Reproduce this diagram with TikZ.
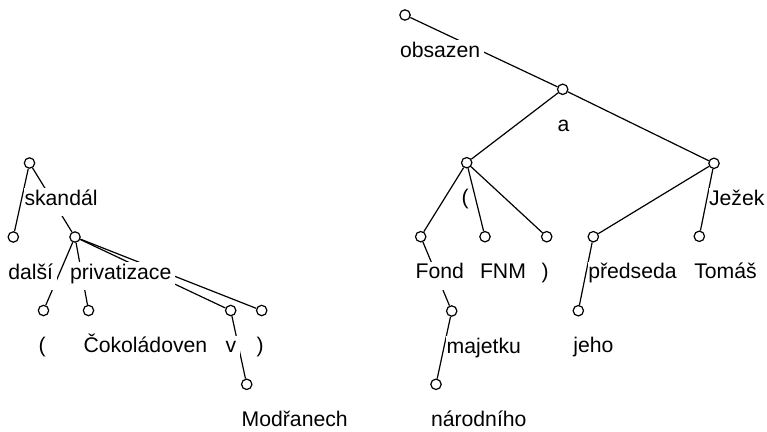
\documentclass[tikz,border=0pt]{standalone}
\usepackage{fontspec}
\setmainfont{Liberation Sans}
\usetikzlibrary{backgrounds}

\tikzset{
  dot/.style={circle, draw, fill=white, line width=1.2pt,
              minimum size=10.4pt, inner sep=0pt},
  lab/.style={anchor=base west, fill=white, inner xsep=0pt, inner ysep=0pt,
              text height=17pt, text depth=11.3pt,
              font=\fontsize{21.2}{25}\selectfont,
              execute at begin node=\hspace*{0.3pt},
              execute at end node=\hspace*{3.5pt}},
  edge/.style={line width=1.2pt}
}

% a tree node: circle plus its word label underneath
\newcommand\tnode[4]{%
  \node[dot] (#1) at (#2,#3) {};
  \node[lab] (#1-l) at ([xshift=-5.5pt,yshift=-42pt]#1.center) {#4};
}

\begin{document}
\begin{tikzpicture}[x=1pt,y=-1pt]
  \useasboundingbox (0,0) rectangle (767,431);

  % left tree
  \tnode{L0}{29.5}{163}{skandál}
  \tnode{Ldalsi}{13.3}{237}{další}
  \tnode{Lpriv}{75}{237}{privatizace}
  \tnode{Lparo}{43.5}{310.5}{(}
  \tnode{Lcok}{88.5}{310.5}{Čokoládoven}
  \tnode{Lv}{230.7}{310.5}{v}
  \tnode{Lparc}{261.7}{310.5}{)}
  \tnode{Lmod}{246.7}{384.3}{Modřanech}

  % right tree
  \tnode{R0}{405}{15}{obsazen}
  \tnode{Ra}{562.7}{89.3}{a}
  \tnode{Rparo}{466.7}{162.7}{(}
  \tnode{Rjez}{714}{163.3}{Ježek}
  \tnode{Rfond}{420.7}{236.7}{Fond}
  \tnode{Rfnm}{485}{236.7}{FNM}
  \tnode{Rparc}{546.7}{236.7}{)}
  \tnode{Rpred}{593.3}{236.7}{předseda}
  \tnode{Rtom}{699.3}{236.3}{Tomáš}
  \tnode{Rmaj}{451.7}{311}{majetku}
  \tnode{Rjeho}{578.3}{310.7}{jeho}
  \tnode{Rnar}{436}{384.3}{národního}

  \begin{scope}[on background layer]
    % left tree edges
    \draw[edge] (L0) -- (Ldalsi);
    \draw[edge] (L0) -- (Lpriv);
    \draw[edge] (Lpriv) -- (Lparo);
    \draw[edge] (Lpriv) -- (Lcok);
    \draw[edge] (Lpriv) -- (Lv);
    \draw[edge] (Lpriv) -- (Lparc);
    \draw[edge] (Lv) -- (Lmod);
    % right tree edges
    \draw[edge] (R0) -- (Ra);
    \draw[edge] (Ra) -- (Rparo);
    \draw[edge] (Ra) -- (Rjez);
    \draw[edge] (Rparo) -- (Rfond);
    \draw[edge] (Rparo) -- (Rfnm);
    \draw[edge] (Rparo) -- (Rparc);
    \draw[edge] (Rfond) -- (Rmaj);
    \draw[edge] (Rmaj) -- (Rnar);
    \draw[edge] (Rjez) -- (Rpred);
    \draw[edge] (Rjez) -- (Rtom);
    \draw[edge] (Rpred) -- (Rjeho);
  \end{scope}
\end{tikzpicture}
\end{document}
